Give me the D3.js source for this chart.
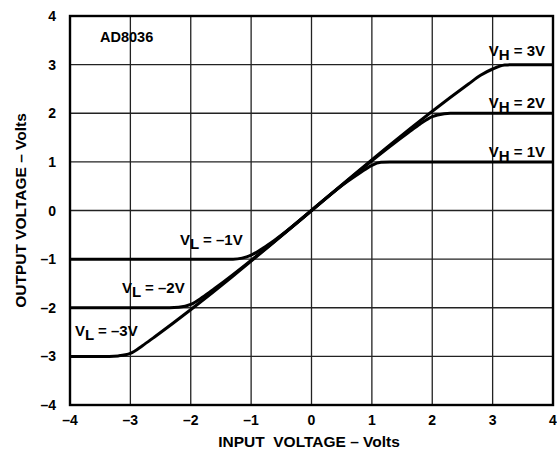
<!DOCTYPE html>
<html>
<head>
<meta charset="utf-8">
<script src="https://cdn.jsdelivr.net/npm/d3@7"></script>
<style>
  body { margin: 0; background: #fff; }
  text { font-family: "Liberation Sans", Arial, sans-serif; font-weight: bold; fill: #000; }
</style>
</head>
<body>
<div id="chart"></div>
<script>
// tick values for both axes
const xTicks = [-4, -3, -2, -1, 0, 1, 2, 3, 4];
const yTicks = [-4, -3, -2, -1, 0, 1, 2, 3, 4];

// transfer curves, one per clamp setting
const clamp1X = [-4, -1.3, -1.15, -1.0, -0.8, -0.6, 0.6, 0.8, 1.0, 1.15, 1.3, 4];
const clamp1Y = [-1, -1, -0.98, -0.92, -0.77, -0.6, 0.6, 0.77, 0.93, 0.99, 1, 1];
const clamp2X = [-4, -2.35, -2.2, -2.0, -1.8, -1.6, 1.6, 1.8, 2.0, 2.2, 2.3, 4];
const clamp2Y = [-2, -2, -1.99, -1.93, -1.78, -1.6, 1.6, 1.78, 1.93, 1.99, 2, 2];
const clamp3X = [-4, -3.35, -3.2, -3.0, -2.8, -2.6, 2.6, 2.8, 3.0, 3.2, 3.35, 4];
const clamp3Y = [-3, -3, -2.99, -2.94, -2.78, -2.6, 2.6, 2.78, 2.91, 2.99, 3, 3];

const width = 557, height = 454;
const mLeft = 70, mTop = 16, mRight = 553, mBottom = 405;

const svg = d3.select("#chart").append("svg")
  .attr("width", width)
  .attr("height", height);

const x = d3.scaleLinear().domain([-4, 4]).range([mLeft, mRight]);
const y = d3.scaleLinear().domain([-4, 4]).range([mBottom, mTop]);

// grid
svg.append("g")
  .selectAll("line")
  .data(xTicks)
  .enter()
  .append("line")
  .attr("x1", d => x(d)).attr("x2", d => x(d))
  .attr("y1", mTop).attr("y2", mBottom)
  .attr("stroke", "#222").attr("stroke-width", 1.3);

svg.append("g")
  .selectAll("line")
  .data(yTicks)
  .enter()
  .append("line")
  .attr("x1", mLeft).attr("x2", mRight)
  .attr("y1", d => y(d)).attr("y2", d => y(d))
  .attr("stroke", "#222").attr("stroke-width", 1.3);

// frame
svg.append("rect")
  .attr("x", mLeft).attr("y", mTop)
  .attr("width", mRight - mLeft).attr("height", mBottom - mTop)
  .attr("fill", "none").attr("stroke", "#000").attr("stroke-width", 2.4);

// tick labels
svg.append("g")
  .selectAll("text")
  .data(xTicks)
  .enter()
  .append("text")
  .attr("x", d => x(d))
  .attr("y", mBottom + 20)
  .attr("text-anchor", "middle")
  .style("font-size", "14px")
  .text(d => d < 0 ? "\u2013" + Math.abs(d) : d);

svg.append("g")
  .selectAll("text")
  .data(yTicks)
  .enter()
  .append("text")
  .attr("x", 56)
  .attr("y", d => y(d) + 5)
  .attr("text-anchor", "end")
  .style("font-size", "14px")
  .text(d => d < 0 ? "\u2013" + Math.abs(d) : d);

// axis titles
svg.append("text")
  .attr("x", 309)
  .attr("y", 447)
  .attr("text-anchor", "middle")
  .style("font-size", "15.5px")
  .attr("xml:space", "preserve")
  .text("INPUT  VOLTAGE \u2013 Volts");

svg.append("text")
  .attr("transform", `translate(26, ${(mTop + mBottom) / 2}) rotate(-90)`)
  .attr("text-anchor", "middle")
  .style("font-size", "15.5px")
  .text("OUTPUT VOLTAGE \u2013 Volts");

// curves
const line = d3.line()
  .x(d => x(d[0]))
  .y(d => y(d[1]))
  .curve(d3.curveMonotoneX);

const curves = [
  d3.zip(clamp1X, clamp1Y),
  d3.zip(clamp2X, clamp2Y),
  d3.zip(clamp3X, clamp3Y)
];

svg.append("g")
  .selectAll("path")
  .data(curves)
  .enter()
  .append("path")
  .attr("d", line)
  .attr("fill", "none")
  .attr("stroke", "#000")
  .attr("stroke-width", 3);

// part number
svg.append("text")
  .attr("x", 100).attr("y", 42)
  .style("font-size", "14.5px")
  .text("AD8036");

// clamp labels
const labels = [
  { x: 545, y: 56, sub: "H", val: "3V", anchor: "end" },
  { x: 545, y: 108, sub: "H", val: "2V", anchor: "end" },
  { x: 545, y: 157, sub: "H", val: "1V", anchor: "end" },
  { x: 180, y: 245, sub: "L", val: "\u20131V", anchor: "start" },
  { x: 122, y: 293, sub: "L", val: "\u20132V", anchor: "start" },
  { x: 75, y: 336, sub: "L", val: "\u20133V", anchor: "start" }
];

labels.forEach(l => {
  const t = svg.append("text")
    .attr("x", l.x).attr("y", l.y)
    .attr("text-anchor", l.anchor)
    .style("font-size", "15px");
  t.append("tspan").text("V");
  t.append("tspan").attr("dy", 4).text(l.sub);
  t.append("tspan").attr("dy", -4).text(" = " + l.val);
});
</script>
</body>
</html>
